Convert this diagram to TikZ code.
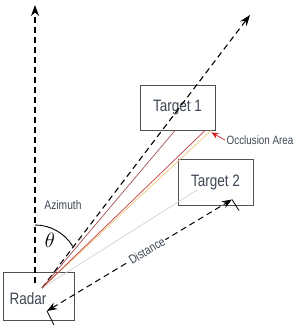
\documentclass[tikz,border=0pt]{standalone}
\usepackage{fontspec}
\setmainfont{Liberation Sans}[FakeStretch=0.82]
\usetikzlibrary{arrows.meta, positioning, calc}
\definecolor{txtgray}{RGB}{62,70,82}
\definecolor{boxgray}{RGB}{80,80,80}
\definecolor{raybrown}{RGB}{165,80,80}
\definecolor{rayred}{RGB}{192,62,62}
\definecolor{rayyellow}{RGB}{240,200,120}
\definecolor{raygray}{RGB}{210,210,210}
\definecolor{occred}{RGB}{210,30,30}
\begin{document}
\begin{tikzpicture}[
    x=1pt, y=-1pt,
    every node/.style={text=txtgray},
    target/.style={rectangle, draw=boxgray, line width=0.9pt, minimum width=75pt, minimum height=45pt, inner sep=0pt, font=\fontsize{16.5}{18}\selectfont},
    boxtext/.style={inner sep=0pt, font=\fontsize{16.5}{18}\selectfont},
    note/.style={inner sep=1.5pt, font=\fontsize{12.5}{14}\selectfont},
    axis/.style={line width=1.1pt, dash pattern=on 6pt off 4pt, -{Stealth[length=11pt, width=8pt]}},
    ray/.style={line width=0.7pt},
    >={Stealth[length=10pt, width=7.5pt]},
]
\useasboundingbox (0,0) rectangle (299,328);

% Boxes
\node[target, minimum width=71pt, minimum height=48pt] (radar) at (38.5,296) {};
\node[boxtext] (radartxt) at (28,299) {Radar};
\node[target] (t1) at (177.5,107.5) {Target 1};
\node[target, minimum height=46pt] (t2) at (215.5,182) {Target 2};
\node[note, anchor=west, font=\fontsize{12}{14}\selectfont] (occ) at (225,140) {Occlusion Area};

% Reference points
\coordinate (o) at (42,288);
\coordinate (az0) at (35,283);
\coordinate (az1) at (35,5);
\coordinate (far) at (250,15);
\coordinate (h1) at (175,130.5);
\coordinate (h2) at (205,130.5);
\coordinate (h3) at (211,130.5);
\coordinate (h4) at (197,190);
\coordinate (rd) at (47,311);
\coordinate (td) at (232,199.5);

% Azimuth and line of sight
\draw[axis] (az0) -- (az1);
\draw[axis] (o) -- (far);
\node[note] (azlbl) at (63,205) {Azimuth};
\draw[line width=0.9pt] (35,225) .. controls (50.4,225) and (64.8,233.1) .. (72.7,246.3);
\node[inner sep=0pt, font=\fontsize{20}{22}\selectfont, text=black] (th) at (50,240) {$\theta$};

% Rays towards the targets
\draw[ray, raygray] (o) -- (h4);
\draw[ray, rayyellow] (o) -- (h3);
\draw[ray, rayred] (o) -- (h2);
\draw[ray, raybrown] (o) -- (h1);

% Occlusion marker
\draw[occred, line width=0.7pt, -{Stealth[length=7pt, width=6pt]}] (occ.west) -- ([xshift=-4pt, yshift=-2pt]t1.south east);

% Distance
\draw[line width=1pt, dash pattern=on 6pt off 4pt, <->] (rd) -- node[pos=0.54, sloped, fill=white, note] (dist) {Distance} (td);
\draw[line width=0.8pt] (td) -- ++(7,11);
\draw[line width=0.8pt] (rd) -- ++(7,14);

\end{tikzpicture}
\end{document}
